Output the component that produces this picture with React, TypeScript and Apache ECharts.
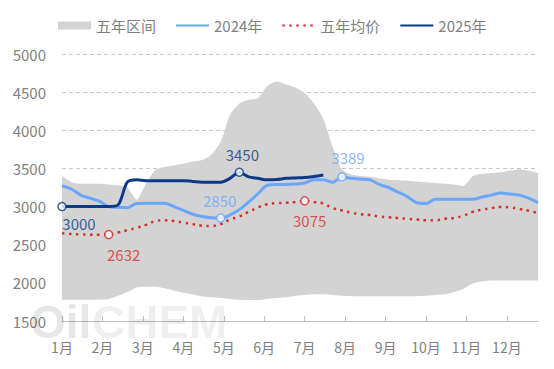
import React, { useEffect, useRef } from "react";
import * as echarts from "echarts";

// weekly index 0..51 (52 weeks across the year)
const monthLabels = ["1月", "2月", "3月", "4月", "5月", "6月", "7月", "8月", "9月", "10月", "11月", "12月"];

const bandUpper = [
  3400, 3320, 3300, 3300, 3300, 3290, 3280, 3250, 3090, 3300,
  3480, 3520, 3540, 3560, 3590, 3610, 3680, 3850, 4200, 4350,
  4400, 4420, 4580, 4640, 4600, 4560, 4490, 4350, 4150, 3780,
  3486, 3420, 3400, 3390, 3370, 3350, 3345, 3340, 3330, 3320,
  3310, 3300, 3290, 3270, 3400, 3430, 3440, 3450, 3470, 3490,
  3470, 3440,
];

const bandLower = [
  1780, 1780, 1780, 1780, 1780, 1790, 1830, 1880, 1940, 1950,
  1950, 1930, 1900, 1870, 1850, 1820, 1810, 1800, 1790, 1780,
  1775, 1775, 1790, 1800, 1810, 1830, 1840, 1850, 1850, 1840,
  1830, 1825, 1825, 1825, 1825, 1825, 1825, 1825, 1825, 1830,
  1840, 1850, 1880, 1920, 1990, 2020, 2030, 2030, 2030, 2030,
  2030, 2030,
];

const s2024 = [
  3270, 3230, 3150, 3110, 3070, 3000, 2990, 2985, 3040, 3045,
  3045, 3045, 3000, 2950, 2900, 2870, 2855, 2850, 2890, 2960,
  3060, 3170, 3280, 3290, 3290, 3295, 3310, 3350, 3350, 3320,
  3389, 3370, 3360, 3350, 3290, 3250, 3190, 3130, 3050, 3040,
  3095, 3095, 3095, 3095, 3095, 3125, 3150, 3178, 3165, 3150,
  3110, 3050,
];

const sAvg = [
  2650, 2640, 2635, 2632, 2630, 2632, 2660, 2690, 2720, 2760,
  2810, 2820, 2810, 2790, 2770, 2750, 2745, 2770, 2830, 2870,
  2930, 2990, 3030, 3045, 3050, 3060, 3075, 3060, 3040, 2980,
  2950, 2920, 2900, 2890, 2870, 2860, 2850, 2840, 2830, 2820,
  2820, 2840, 2850, 2880, 2930, 2960, 2980, 2995, 2990, 2970,
  2945, 2915,
];

const s2025 = [
  3000, 3000, 3000, 3000, 3000, 3000, 3020, 3320, 3350, 3340,
  3340, 3340, 3340, 3340, 3330, 3320, 3320, 3320, 3370, 3450,
  3390, 3370, 3350, 3355, 3370, 3375, 3380, 3395, 3415,
];

// labelled points: [week index, label position, label offset]
const marks2025: [number, string, number[]][] = [[0, "bottom", [17, 0]], [19, "top", [3, 0]]];
const marks2024: [number, string, number[]][] = [[17, "top", [-1, 0]], [30, "top", [6, -2]]];
const marksAvg: [number, string, number[]][] = [[5, "bottom", [15, 3]], [26, "bottom", [5, 2]]];

const yTicks = [1500, 2000, 2500, 3000, 3500, 4000, 4500, 5000];

const C2024 = "#6AA6FA";
const C2025 = "#0B3A86";
const CAVG = "#D6302A";
const CBAND = "#D3D3D3";

const wk = (i: number) => (i * 12) / 52;
const toXY = (arr: number[]) => arr.map((v, i) => [wk(i), v]);

export default function App() {
  const ref = useRef<HTMLDivElement>(null);
  useEffect(() => {
    if (!ref.current) return;
    const chart = echarts.init(ref.current, undefined, { renderer: "svg" });
    const font = "'Noto Sans CJK SC', 'Noto Sans', sans-serif";
    const markSeries = (name: string, arr: number[], marks: [number, string, number[]][], color: string) => ({
      name,
      type: "scatter",
      z: 10,
      symbol: "circle",
      symbolSize: 8,
      itemStyle: { color: "#fff", borderColor: color, borderWidth: 1.5 },
      data: marks.map(([i, pos, off]) => ({
        value: [wk(i), arr[i]],
        label: { position: pos, offset: off },
      })),
      label: {
        show: true,
        color,
        fontSize: 15,
        fontFamily: font,
        formatter: (p: any) => String(p.value[1]),
      },
    });
    const hideSym = { opacity: 0 };
    const wmStyle = { fontSize: 46, fontWeight: "bold", fontFamily: "'Liberation Sans', sans-serif" };
    chart.setOption({
      animation: false,
      textStyle: { fontFamily: font },
      graphic: [
        {
          type: "text",
          left: 30,
          top: 299,
          z: 100,
          silent: true,
          style: { ...wmStyle, text: "Oil", fill: "rgba(0,0,0,0.11)" },
        },
        {
          type: "text",
          left: 92,
          top: 299,
          z: 100,
          silent: true,
          style: { ...wmStyle, text: "CHEM", fill: "rgba(0,0,0,0.07)" },
        },
      ],
      legend: {
        left: 53,
        top: 13,
        itemWidth: 33,
        itemHeight: 8,
        itemGap: 19,
        textStyle: { color: "#7f7f7f", fontSize: 15, fontFamily: font },
        data: [
          { name: "五年区间", icon: "rect", itemStyle: { color: CBAND } },
          { name: "2024年", itemStyle: hideSym },
          { name: "五年均价", itemStyle: hideSym },
          { name: "2025年", itemStyle: hideSym },
        ],
      },
      grid: { left: 62, right: 16, top: 54, bottom: 48 },
      xAxis: {
        type: "value",
        min: 0,
        max: wk(51),
        interval: 1,
        z: 10,
        axisLine: { show: true, lineStyle: { color: "#bfbfbf" } },
        axisTick: {
          show: true,
          inside: true,
          length: 5,
          lineStyle: { color: "#bfbfbf" },
          customValues: monthLabels.map((_, i) => i),
        },
        axisLabel: {
          color: "#7f7f7f",
          fontSize: 14,
          margin: 19,
          customValues: monthLabels.map((_, i) => i),
          formatter: (v: number) => monthLabels[Math.round(v)] ?? "",
        },
        splitLine: { show: false },
      },
      yAxis: {
        type: "value",
        min: yTicks[0],
        max: yTicks[yTicks.length - 1],
        interval: 500,
        axisLine: { show: false },
        axisTick: { show: false },
        axisLabel: { color: "#7f7f7f", fontSize: 15, margin: 16, formatter: (v: number) => String(v) },
        splitLine: { lineStyle: { type: [4, 3], color: "#c8c8c8" } },
      },
      series: [
        {
          name: "五年区间",
          type: "line",
          symbol: "none",
          smooth: 0.2,
          lineStyle: { width: 0, color: CBAND },
          itemStyle: { color: CBAND },
          areaStyle: { color: CBAND, opacity: 1, origin: "start" },
          data: toXY(bandUpper),
          z: 1,
        },
        {
          name: "bandLower",
          type: "line",
          symbol: "none",
          smooth: 0.2,
          lineStyle: { width: 0, color: "#fff" },
          areaStyle: { color: "#fff", opacity: 1, origin: "start" },
          data: toXY(bandLower),
          z: 2,
          silent: true,
        },
        {
          name: "五年均价",
          type: "line",
          symbol: "none",
          smooth: 0.4,
          itemStyle: { color: CAVG },
          lineStyle: { color: CAVG, width: 2.5, type: [2.5, 4.5] },
          data: toXY(sAvg),
          z: 3,
        },
        {
          name: "2024年",
          type: "line",
          symbol: "none",
          smooth: 0.3,
          itemStyle: { color: C2024 },
          lineStyle: { color: C2024, width: 3 },
          data: toXY(s2024),
          z: 4,
        },
        {
          name: "2025年",
          type: "line",
          symbol: "none",
          smooth: 0.3,
          itemStyle: { color: C2025 },
          lineStyle: { color: C2025, width: 3 },
          data: toXY(s2025),
          z: 5,
        },
        markSeries("m2025", s2025, marks2025, C2025) as any,
        markSeries("m2024", s2024, marks2024, C2024) as any,
        markSeries("mAvg", sAvg, marksAvg, CAVG) as any,
      ],
    });
    return () => chart.dispose();
  }, []);
  return <div ref={ref} style={{ width: 554, height: 369, margin: -8 }} />;
}
